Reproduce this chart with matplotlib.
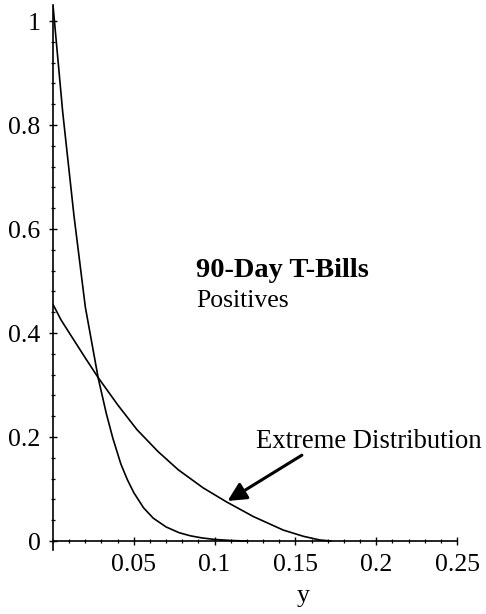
import matplotlib
matplotlib.use("Agg")
import matplotlib.pyplot as plt
from matplotlib.ticker import FixedLocator, MultipleLocator

plt.rcParams['font.family'] = ['Liberation Serif', 'DejaVu Serif']

# Density of the positive 90-day T-bill changes (steep curve)
tbill_x = [0.000, 0.006, 0.013, 0.020, 0.028, 0.033, 0.037, 0.042, 0.046,
           0.050, 0.056, 0.062, 0.070, 0.078, 0.085, 0.092, 0.100, 0.110,
           0.120]
tbill_y = [1.030, 0.825, 0.625, 0.450, 0.313, 0.245, 0.198, 0.148, 0.118,
           0.093, 0.064, 0.044, 0.027, 0.016, 0.010, 0.006, 0.003, 0.001,
           0.000]

# Fitted extreme-value density
extreme_x = [0.000, 0.005, 0.013, 0.020, 0.028, 0.040, 0.052, 0.065, 0.0775,
             0.093, 0.1075, 0.124, 0.1425, 0.155, 0.165, 0.172]
extreme_y = [0.455, 0.425, 0.386, 0.352, 0.314, 0.262, 0.214, 0.172, 0.137,
             0.102, 0.075, 0.047, 0.021, 0.009, 0.002, 0.000]

y_ticks = [0.0, 0.2, 0.4, 0.6, 0.8, 1.0]
y_tick_labels = ["0", "0.2", "0.4", "0.6", "0.8", "1"]
x_ticks = [0.05, 0.10, 0.15, 0.20, 0.25]
x_tick_labels = ["0.05", "0.1", "0.15", "0.2", "0.25"]

fig = plt.figure(figsize=(4.86, 6.14), dpi=100)
ax = fig.add_axes([53 / 486, 64 / 614, 404 / 486, 545 / 614])

ax.plot(tbill_x, tbill_y, color='black', lw=1.2, solid_joinstyle='round')
ax.plot(extreme_x, extreme_y, color='black', lw=1.2, solid_joinstyle='round')

ax.set_xlim(0, 0.25)
ax.set_ylim(-0.0173, 1.0308)

# axes crossing at the origin
ax.spines['top'].set_visible(False)
ax.spines['right'].set_visible(False)
ax.spines['bottom'].set_position(('data', 0))
ax.spines['left'].set_position(('data', 0))
for s in ('bottom', 'left'):
    ax.spines[s].set_linewidth(1.2)
ax.set_facecolor('none')

ax.xaxis.set_major_locator(FixedLocator(x_ticks))
ax.set_xticklabels(x_tick_labels)
ax.xaxis.set_minor_locator(MultipleLocator(0.01))
ax.yaxis.set_major_locator(FixedLocator(y_ticks))
ax.set_yticklabels(y_tick_labels)
ax.yaxis.set_minor_locator(MultipleLocator(0.04))

ax.tick_params(which='major', direction='inout', length=6, width=1.0,
               labelsize=18.5, pad=6)
ax.tick_params(which='minor', direction='inout', length=3, width=0.9)

ax.set_xlabel('y', fontsize=18.5)
ax.xaxis.set_label_coords(0.619, -0.065)

ax.text(0.0885, 0.508, '90-Day T-Bills', fontsize=20.5, fontweight='bold',
        ha='left', va='baseline')
ax.text(0.0885, 0.450, 'Positives', fontsize=18.5, ha='left', va='baseline')

ax.annotate('', xy=(0.108, 0.077), xytext=(0.154, 0.165),
            arrowprops=dict(arrowstyle='-|>', color='black', lw=2.2,
                            mutation_scale=28, shrinkA=0, shrinkB=0))
ax.text(0.1256, 0.179, 'Extreme Distribution', fontsize=19.2,
        ha='left', va='baseline')

fig.savefig('out.png', dpi=100)
